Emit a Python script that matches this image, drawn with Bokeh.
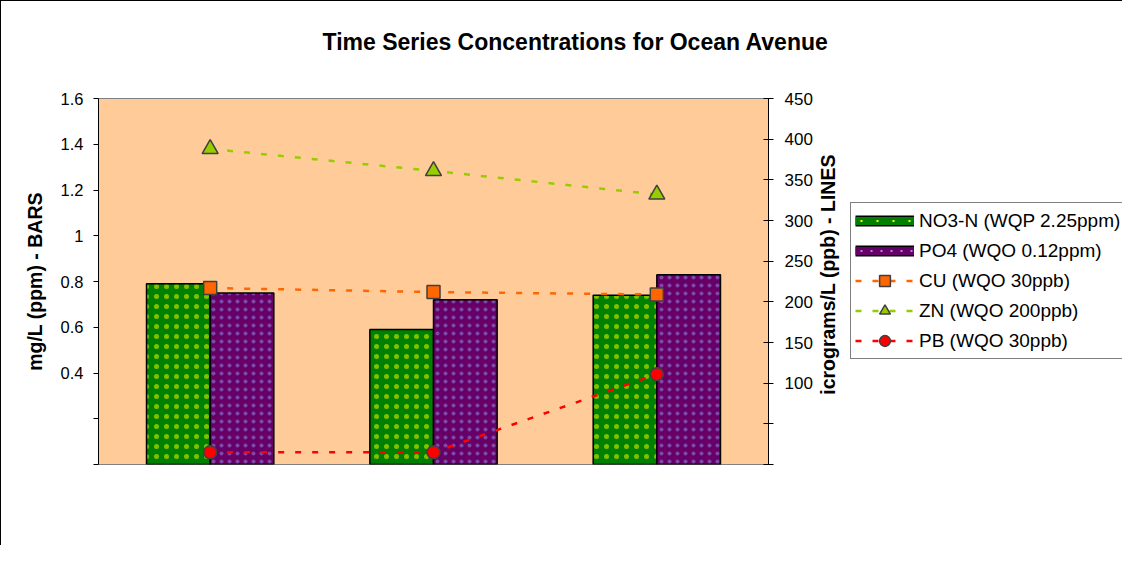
import math
from bokeh.plotting import figure
from bokeh.layouts import row
from bokeh.models import (FactorRange, Range1d, LinearAxis, FixedTicker, Legend, LegendItem,
                          ColumnDataSource, Title, Label)
from bokeh.transform import dodge
from bokeh.embed import file_html
from bokeh.resources import INLINE

# ---- data ----
events = ["Event 1", "Event 2", "Event 3"]
no3_n = [0.79, 0.59, 0.74]      # mg/L (left axis, bars)
po4 = [0.75, 0.72, 0.83]        # mg/L (left axis, bars)
cu = [217, 212, 209]            # ug/L (right axis, lines)
zn = [388, 361, 332]
pb = [15, 15, 111]

left_ticks = [0, 0.2, 0.4, 0.6, 0.8, 1, 1.2, 1.4, 1.6]
left_labels = ["", "", "0.4", "0.6", "0.8", "1", "1.2", "1.4", "1.6"]
right_ticks = [0, 50, 100, 150, 200, 250, 300, 350, 400, 450]
right_labels = ["", "", "100", "150", "200", "250", "300", "350", "400", "450"]

TITLE = "Time Series Concentrations for Ocean Avenue"
LEFT_TITLE = "mg/L (ppm) - BARS"
RIGHT_TITLE = "icrograms/L (ppb) - LINES"

FONT = "Liberation Sans"
GREEN, PURPLE = "#008000", "#660066"
YDOT, PDOT = "#FFFF00", "#A08CE6"
CU_C, ZN_C, PB_C = "#FF6600", "#99CC00", "#FF0000"
DASH = "6 11"

src = ColumnDataSource(dict(event=events, no3=no3_n, po4=po4, cu=cu, zn=zn, pb=pb))

p = figure(width=843, height=545, output_backend="svg", toolbar_location=None,
           x_range=FactorRange(factors=events, range_padding=0),
           y_range=Range1d(0, 1.6),
           min_border_left=97, min_border_right=76, min_border_top=97, min_border_bottom=82,
           title=None)
p.styles = {"border-left": "1px solid black", "border-top": "1px solid black"}
p.extra_y_ranges = {"right": Range1d(0, 450)}

p.background_fill_color = "#FFCC99"
p.border_fill_color = "white"
p.outline_line_color = "#808080"
p.outline_line_width = 1
p.xgrid.visible = False
p.ygrid.visible = False

# title (spacer first so the title sits higher above the frame)
p.add_layout(Title(text=" ", text_font_size="24px"), "above")
p.add_layout(Title(text=TITLE, text_font=FONT, text_font_size="23px", text_font_style="bold",
                   text_color="black", align="left", offset=224), "above")

# x axis: no labels, no ticks (frame outline gives the grey baseline)
p.xaxis.visible = False

# left axis
ya = p.yaxis[0]
ya.ticker = FixedTicker(ticks=left_ticks)
ya.major_label_overrides = dict(zip(left_ticks, left_labels))
ya.minor_tick_line_color = None
ya.major_tick_in = 0
ya.major_tick_out = 5
ya.major_label_standoff = 10
ya.axis_line_color = "black"
ya.major_tick_line_color = "black"
ya.major_label_text_font = FONT
ya.major_label_text_font_size = "16.5px"
ya.major_label_text_color = "black"
ya.axis_label = LEFT_TITLE
ya.axis_label_text_font = FONT
ya.axis_label_text_font_size = "19.5px"
ya.axis_label_text_font_style = "bold"
ya.axis_label_text_color = "black"
ya.axis_label_standoff = 12

# right axis (its title is drawn by the overlapping right panel so it reads upwards)
ra = LinearAxis(y_range_name="right", ticker=FixedTicker(ticks=right_ticks))
ra.major_label_overrides = dict(zip(right_ticks, right_labels))
ra.minor_tick_line_color = None
ra.major_tick_in = 5
ra.major_tick_out = 5
ra.major_label_standoff = 11
ra.axis_line_color = "black"
ra.major_tick_line_color = "black"
ra.major_label_text_font = FONT
ra.major_label_text_font_size = "17px"
ra.major_label_text_color = "black"
p.add_layout(ra, "right")

# bars
bw = 0.285
p.vbar(x=dodge("event", -bw / 2, range=p.x_range), top="no3", width=bw, source=src,
       fill_color=GREEN, line_color="black", line_width=1.5,
       hatch_pattern="dot", hatch_color=YDOT, hatch_scale=10, hatch_weight=0.5, hatch_alpha=0.5)
p.vbar(x=dodge("event", bw / 2, range=p.x_range), top="po4", width=bw, source=src,
       fill_color=PURPLE, line_color="black", line_width=1.5,
       hatch_pattern="dot", hatch_color=PDOT, hatch_scale=8, hatch_weight=0.5, hatch_alpha=0.5)

# lines
def series(fig, col, color, marker, size, **kw):
    l = fig.line("event", col, source=src, line_color=color, line_width=2.5, line_dash=DASH, **kw)
    m = fig.scatter("event", col, source=src, marker=marker, size=size,
                    fill_color=color, line_color="#404040", line_width=1.5, **kw)
    return [l, m]

series(p, "cu", CU_C, "square", 13, y_range_name="right")
series(p, "zn", ZN_C, "triangle", 16, y_range_name="right")
series(p, "pb", PB_C, "circle", 13, y_range_name="right")

# ---- right panel (transparent, overlapping p by 30px): right-axis title + legend ----
q = figure(width=309, height=545, output_backend="svg", toolbar_location=None,
           x_range=FactorRange(factors=events), y_range=Range1d(-20, -10),
           x_axis_location=None, y_axis_location=None, min_border=0, title=None)
q.styles = {"margin-left": "-30px", "border-top": "1px solid black"}
q.outline_line_color = None
q.background_fill_alpha = 0
q.border_fill_alpha = 0
q.xgrid.visible = False
q.ygrid.visible = False

q.add_layout(Label(x=14, y=190, x_units="screen", y_units="screen", text=RIGHT_TITLE,
                   angle=math.pi / 2, text_align="center", text_baseline="middle",
                   text_font=FONT, text_font_size="19.5px", text_font_style="bold",
                   text_color="black"))

def swatch(col, fill, dot, dash):
    kw = dict(source=src, line_cap="butt")
    a = q.line("event", col, line_color="black", line_width=11, **kw)
    b = q.line("event", col, line_color=fill, line_width=8, **kw)
    c = q.line("event", col, line_color=dot, line_width=2, line_dash=dash, line_dash_offset=-5, **kw)
    return [a, b, c]

legend = Legend(items=[
    LegendItem(label="NO3-N (WQP 2.25ppm)", renderers=swatch("no3", GREEN, YDOT, "2 14")),
    LegendItem(label="PO4 (WQO 0.12ppm)", renderers=swatch("po4", PURPLE, PDOT, "2 8")),
    LegendItem(label="CU (WQO 30ppb)", renderers=series(q, "cu", CU_C, "square", 13)),
    LegendItem(label="ZN (WQO 200ppb)", renderers=series(q, "zn", ZN_C, "triangle", 16)),
    LegendItem(label="PB (WQO 30ppb)", renderers=series(q, "pb", PB_C, "circle", 13)),
], location=(37, 105))
legend.label_text_font = FONT
legend.label_text_font_size = "19px"
legend.label_text_color = "black"
legend.glyph_width = 59
legend.glyph_height = 27
legend.label_height = 27
legend.spacing = 3
legend.padding = 4
legend.label_standoff = 5
legend.margin = 0
legend.border_line_color = "black"
legend.border_line_width = 1
legend.background_fill_color = "white"
legend.background_fill_alpha = 1
q.add_layout(legend, "center")

layout = row(p, q, spacing=0)
open("out.html", "w").write(file_html(layout, INLINE))
